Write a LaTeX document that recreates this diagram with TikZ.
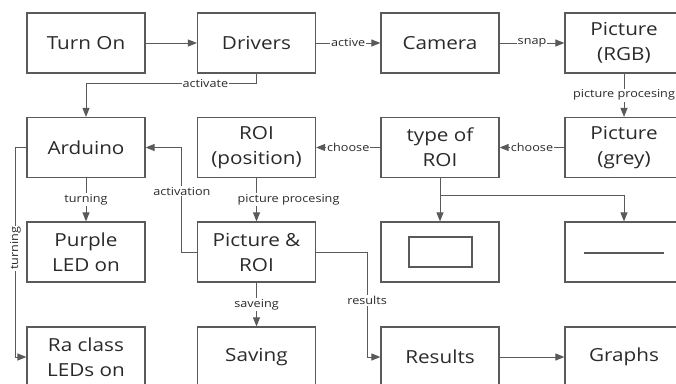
\documentclass[tikz,border=0pt]{standalone}
\usepackage{fontspec}
\setmainfont{Open Sans}[FakeStretch=1.15]
\usetikzlibrary{arrows.meta}
\definecolor{linegray}{HTML}{5A5A5A}
\definecolor{textgray}{HTML}{2A2A2A}
\tikzset{
  blockbox/.style={draw=linegray, line width=1.2pt, minimum width=118pt, minimum height=60pt, align=center, text=textgray, font=\fontsize{18}{25}\selectfont, inner sep=0pt},
  flow/.style={draw=linegray, line width=1pt, -{Triangle[length=9pt,width=7pt]}},
  lbl/.style={fill=white, text=textgray, font=\fontsize{11}{13}\selectfont, inner sep=1pt},
}
\begin{document}
\begin{tikzpicture}[x=1pt, y=-1pt]
\clip (0,0) rectangle (676,383);
\pgfmathsetmacro{\colA}{86}
\pgfmathsetmacro{\colB}{256.5}
\pgfmathsetmacro{\colC}{440}
\pgfmathsetmacro{\colD}{624}
\node[blockbox] (turnon) at (\colA,43) {Turn On};
\node[blockbox] (drivers) at (\colB,43) {Drivers};
\node[blockbox] (camera) at (\colC,43) {Camera};
\node[blockbox] (rgb) at (\colD,43) {Picture\\(RGB)};
\node[blockbox] (arduino) at (\colA,147.5) {Arduino};
\node[blockbox] (roipos) at (\colB,147.5) {ROI\\(position)};
\node[blockbox] (roitype) at (\colC,147.5) {type of\\ROI};
\node[blockbox] (grey) at (\colD,147.5) {Picture\\(grey)};
\node[blockbox] (purple) at (\colA,252) {Purple\\LED on};
\node[blockbox] (picroi) at (\colB,252) {Picture \&\\ROI};
\node[blockbox] (rectroi) at (\colC,252) {};
\node[blockbox] (lineroi) at (\colD,252) {};
\node[blockbox] (raleds) at (\colA,357) {Ra class\\LEDs on};
\node[blockbox] (saving) at (\colB,357) {Saving};
\node[blockbox] (results) at (\colC,357) {Results};
\node[blockbox] (graphs) at (\colD,357) {Graphs};
\draw[linegray, line width=1.2pt] (409,237) rectangle (472,267);
\draw[linegray, line width=1.2pt] (584,253) -- (664,253);
\draw[flow] (turnon) -- (drivers);
\draw[flow] (drivers) -- node[lbl]{active} (camera);
\draw[flow] (camera) -- node[lbl]{snap} (rgb);
\draw[flow] (drivers.south) -- ++(0,10) -| node[lbl, pos=0.15]{activate} (arduino.north);
\draw[flow] (rgb) -- node[lbl]{picture procesing} (grey);
\draw[flow] (grey) -- node[lbl]{choose} (roitype);
\draw[flow] (roitype) -- node[lbl]{choose} (roipos);
\draw[flow] (roipos) -- node[lbl, xshift=32pt]{picture procesing} (picroi);
\draw[flow] (arduino) -- node[lbl]{turning} (purple);
\draw[flow] (picroi) -- node[lbl]{saveing} (saving);
\draw[flow] (picroi.west) -- ++(-15,0) |- node[lbl, pos=0.29]{activation} (arduino.east);
\draw[flow] (arduino.west) -- ++(-11,0) |- node[lbl, pos=0.24, rotate=90]{turning} (raleds.west);
\draw[flow] (picroi.east) -- ++(51,0) |- node[lbl, pos=0.23]{results} (results.west);
\path (roitype.south) ++(0,17) coordinate (split);
\draw[flow] (roitype.south) -- (rectroi.north);
\draw[flow] (split) -| (lineroi.north);
\draw[flow] (results) -- (graphs);
\end{tikzpicture}
\end{document}
